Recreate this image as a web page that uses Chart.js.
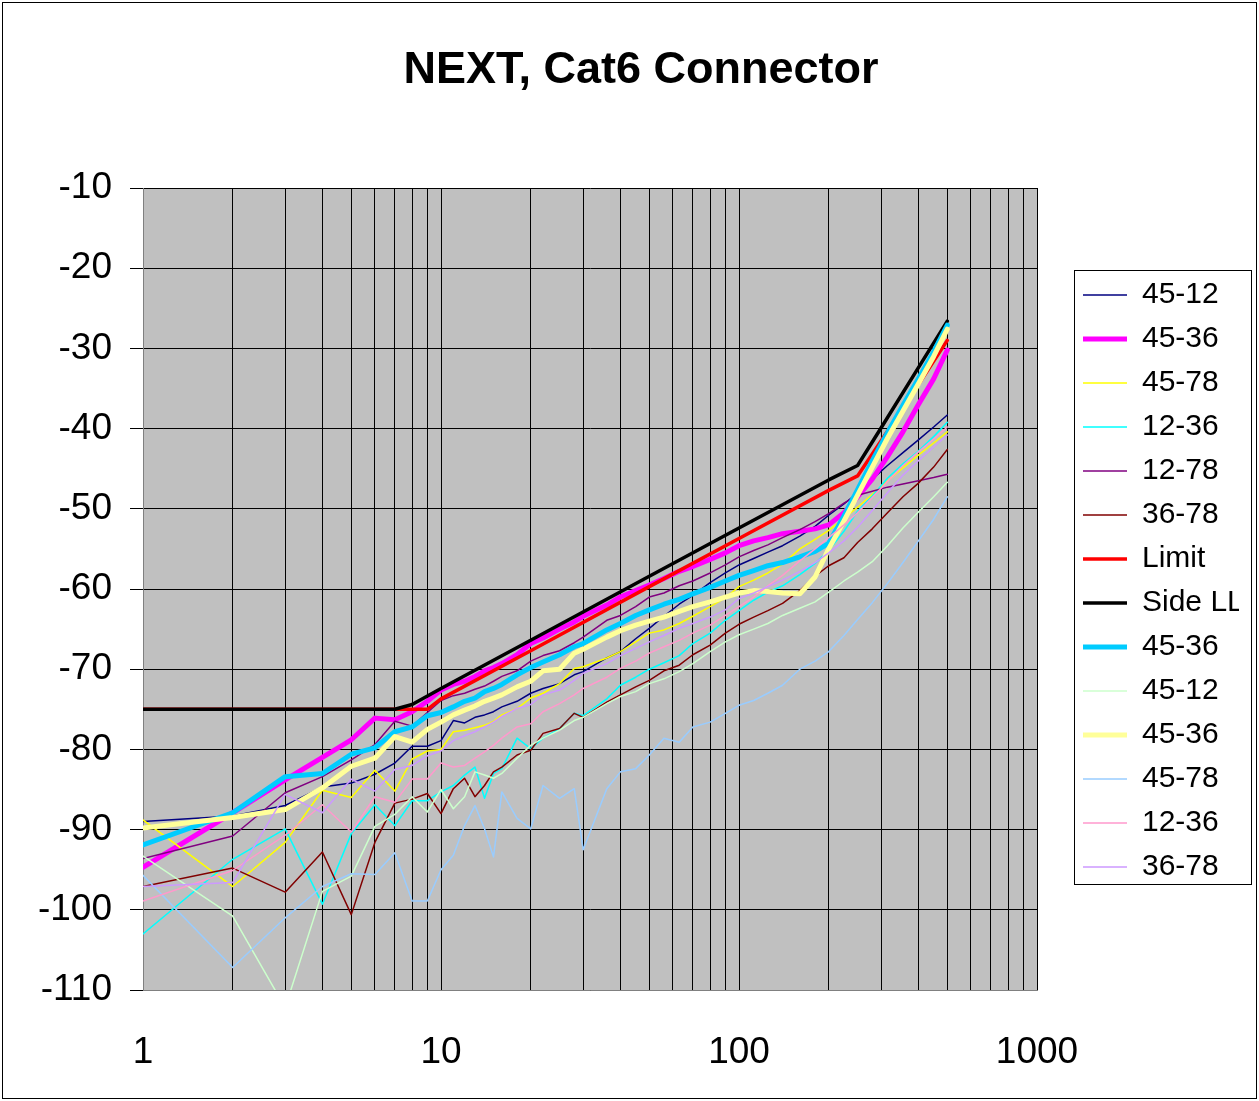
<!DOCTYPE html>
<html>
<head>
<meta charset="utf-8">
<title>NEXT, Cat6 Connector</title>
<script src="https://cdn.jsdelivr.net/npm/chart.js"></script>
<style>
  html, body { margin: 0; padding: 0; background: #ffffff; }
  #wrap { position: relative; width: 1259px; height: 1101px; }
</style>
</head>
<body>
<div id="wrap"><canvas id="chart"></canvas></div>
<script>
// frequency points (MHz) shared by the measured pairs
const FREQ = [1, 2, 3, 4, 5, 6, 7, 8, 9, 10, 11, 12, 13, 14, 15, 16, 18, 20, 22, 25, 28, 30,
    36, 40, 45, 50, 56, 63, 70, 80, 90, 100, 112, 125, 140, 160, 180, 200, 225, 250,
    280, 315, 355, 400, 450, 500];

// NEXT in dB, first measurement set
const PAIR_45_12 = [-89.0, -88.3, -87.0, -84.7, -84.2, -83.1, -81.7, -79.6, -79.6, -78.9,
    -76.4, -76.7, -76.0, -75.7, -75.3, -74.7, -74.0, -73.0, -72.4, -71.8, -70.7, -70.3,
    -68.6, -67.8, -66.2, -64.9, -63.4, -61.9, -60.8, -59.2, -58.0, -57.0,
    -56.2, -55.4, -54.6, -53.4, -52.2, -50.8, -49.4, -48.0,
    -46.3, -44.6, -43.0, -41.4, -39.8, -38.3];
const PAIR_45_36 = [-94.7, -87.9, -83.8, -81.0, -78.8, -76.1, -76.3, -75.3, -74.0, -72.6,
    -71.9, -71.5, -70.9, -70.2, -69.8, -69.3, -68.2, -66.8, -66.1, -65.0, -64.1, -63.4,
    -62.0, -61.0, -60.2, -59.5, -58.7, -57.8, -57.2, -56.3, -55.5, -54.6,
    -54.0, -53.6, -53.1, -52.8, -52.5, -52.0, -50.5, -48.5,
    -46.3, -43.5, -40.4, -37.0, -33.8, -30.2];
const PAIR_45_78 = [-88.8, -97.1, -91.6, -85.1, -86.0, -82.6, -85.2, -81.2, -80.2, -80.0,
    -77.8, -77.6, -77.3, -77.0, -76.5, -75.7, -74.9, -73.6, -73.0, -71.8, -69.9, -69.7,
    -68.6, -67.8, -66.6, -65.5, -65.1, -64.3, -63.4, -62.2, -61.1, -59.7,
    -58.9, -58.0, -56.9, -55.0, -53.8, -52.7, -51.2, -49.8,
    -48.2, -46.5, -44.9, -43.3, -41.8, -40.4];
const PAIR_12_36 = [-103.0, -93.7, -89.9, -99.3, -90.5, -86.9, -89.5, -86.4, -86.4, -85.3,
    -84.5, -83.2, -82.2, -86.1, -83.0, -82.4, -78.6, -79.9, -78.6, -77.4, -75.5, -75.8,
    -73.7, -72.0, -71.0, -70.0, -69.2, -68.3, -66.8, -65.5, -63.9, -62.7,
    -61.4, -60.4, -59.6, -58.2, -56.8, -55.2, -52.8, -50.3,
    -48.4, -46.2, -44.4, -42.8, -41.0, -39.2];
const PAIR_12_78 = [-93.6, -90.8, -85.4, -83.4, -81.3, -79.4, -76.5, -77.1, -75.4, -73.9,
    -73.3, -73.0, -72.5, -72.1, -71.5, -70.9, -70.2, -69.0, -68.3, -67.7, -66.7, -66.0,
    -63.9, -63.3, -62.2, -61.0, -60.5, -59.6, -59.0, -58.0, -57.0, -56.0,
    -55.2, -54.5, -53.6, -52.6, -51.6, -50.6, -49.3, -48.3,
    -47.8, -47.3, -46.9, -46.5, -46.1, -45.7];
const PAIR_36_78 = [-97.1, -94.8, -97.8, -92.8, -100.6, -91.6, -86.7, -86.2, -85.5, -88.0,
    -84.9, -83.6, -85.9, -84.5, -82.8, -82.2, -80.7, -80.1, -78.0, -77.4, -75.5, -76.0,
    -74.1, -73.2, -72.2, -71.4, -70.2, -69.5, -68.2, -67.0, -65.5, -64.4,
    -63.5, -62.7, -61.8, -60.2, -58.4, -57.1, -56.1, -54.2,
    -52.5, -50.5, -48.5, -46.8, -44.8, -42.6];

// limit lines
const LIMIT_FREQ = [1, 9, 10, 20, 50, 100, 200, 250, 300, 400, 500];
const LIMIT = [-75, -75, -73.7, -67.7, -59.7, -53.7, -47.7, -45.9, -41.5, -34.5, -29.0];
const SIDE_FREQ = [1, 7, 8, 10, 20, 50, 100, 200, 250, 300, 400, 500];
const SIDE_LL = [-75, -75, -74.4, -72.4, -66.4, -58.4, -52.4, -46.4, -44.6, -39.9, -32.4, -26.6];

// second measurement set
const PAIR_45_36_B = [-91.9, -87.9, -83.4, -83.0, -80.6, -79.8, -77.8, -77.2, -75.8, -75.4,
    -74.7, -74.0, -73.6, -72.8, -72.4, -71.9, -70.7, -69.8, -69.1, -68.2, -67.2, -66.8,
    -65.1, -64.3, -63.3, -62.6, -61.9, -61.3, -60.6, -59.8, -59.0, -58.3,
    -57.7, -57.1, -56.7, -56.0, -55.3, -54.3, -50.9, -47.6,
    -44.0, -40.5, -37.1, -33.8, -30.4, -27.1];
const PAIR_45_12_B = [-93.3, -100.8, -112.2, -97.7, -95.8, -89.6, -88.1, -85.9, -87.8, -85.0,
    -87.4, -85.9, -82.8, -83.2, -83.6, -83.0, -81.1, -79.5, -78.6, -77.6, -76.4, -76.0,
    -74.3, -73.4, -72.8, -71.8, -71.2, -70.3, -69.3, -67.8, -66.6, -65.7,
    -65.0, -64.3, -63.3, -62.4, -61.6, -60.4, -59.0, -57.9,
    -56.6, -54.6, -52.4, -50.4, -48.5, -46.7];
const PAIR_45_36_C = [-89.8, -88.5, -87.5, -84.8, -82.1, -81.1, -78.4, -79.1, -77.5, -76.6,
    -75.7, -75.1, -74.6, -74.0, -73.6, -73.2, -72.2, -71.5, -70.2, -70.0, -68.0, -67.5,
    -66.0, -65.2, -64.5, -64.0, -63.5, -62.8, -62.2, -61.6, -61.0, -60.5,
    -60.2, -60.3, -60.5, -60.6, -58.5, -55.0, -51.5, -48.3,
    -44.8, -41.2, -37.8, -34.4, -31.0, -27.6];
const PAIR_45_78_B = [-95.7, -107.2, -101.0, -97.1, -95.5, -95.6, -92.9, -98.9, -98.9, -95.0,
    -93.2, -89.5, -87.0, -89.9, -93.4, -85.3, -88.6, -89.9, -84.5, -86.1, -84.9, -92.5,
    -84.9, -82.8, -82.4, -80.7, -78.6, -79.1, -77.2, -76.6, -75.5, -74.5,
    -73.9, -73.0, -72.0, -70.0, -69.0, -67.8, -65.8, -63.8,
    -61.7, -59.3, -56.7, -54.0, -51.3, -48.5];
const PAIR_12_36_B = [-98.9, -95.1, -90.7, -86.9, -90.3, -85.9, -86.6, -83.7, -83.7, -81.7,
    -82.2, -82.0, -81.1, -80.3, -79.5, -78.6, -77.2, -76.8, -75.3, -74.3, -73.2, -72.4,
    -71.0, -69.9, -69.0, -68.0, -67.2, -66.4, -65.5, -64.5, -63.3, -62.2,
    -61.0, -59.6, -58.3, -56.5, -55.0, -53.6, -52.0, -50.5,
    -48.6, -46.6, -44.6, -42.9, -41.3, -39.8];
const PAIR_36_78_B = [-97.1, -96.6, -85.6, -87.9, -83.7, -85.2, -82.5, -82.0, -80.8, -80.2,
    -78.9, -78.3, -77.8, -77.2, -76.6, -75.9, -74.9, -74.4, -73.2, -72.6, -71.4, -70.5,
    -69.3, -68.3, -67.4, -66.6, -65.8, -64.9, -64.3, -63.5, -62.6, -61.2,
    -60.5, -59.7, -58.9, -57.8, -56.7, -55.5, -54.0, -52.3,
    -50.2, -48.0, -45.8, -44.0, -42.3, -40.8];

const SERIES_NAMES = ['45-12', '45-36', '45-78', '12-36', '12-78', '36-78', 'Limit', 'Side LL',
    '45-36', '45-12', '45-36', '45-78', '12-36', '36-78'];
const SERIES_X = [FREQ, FREQ, FREQ, FREQ, FREQ, FREQ, LIMIT_FREQ, SIDE_FREQ,
    FREQ, FREQ, FREQ, FREQ, FREQ, FREQ];
const SERIES_Y = [PAIR_45_12, PAIR_45_36, PAIR_45_78, PAIR_12_36, PAIR_12_78, PAIR_36_78, LIMIT, SIDE_LL,
    PAIR_45_36_B, PAIR_45_12_B, PAIR_45_36_C, PAIR_45_78_B, PAIR_12_36_B, PAIR_36_78_B];

// axis ticks
const X_TICKS = [1, 2, 3, 4, 5, 6, 7, 8, 9, 10, 20, 30, 40, 50, 60, 70, 80, 90,
    100, 200, 300, 400, 500, 600, 700, 800, 900, 1000];
const X_LABELS = [1, 10, 100, 1000];

// styles
const COLORS = ['#000080', '#FF00FF', '#FFFF00', '#00FFFF', '#800080', '#800000', '#FF0000', '#000000',
    '#00CCFF', '#CCFFCC', '#FFFF99', '#99CCFF', '#FF99CC', '#CC99FF'];
const WIDTHS = [1.5, 5, 1.5, 1.5, 1.5, 1.5, 3.5, 3.5, 5, 1.5, 5, 1.5, 1.5, 1.5];

const FONT = '"Liberation Sans", Arial, Helvetica, sans-serif';
Chart.defaults.font.family = FONT;
Chart.defaults.color = '#000000';

function toPoints(xs, ys) {
    return xs.map(function (x, i) { return { x: x, y: ys[i] }; });
}

const datasets = SERIES_NAMES.map(function (name, i) {
    return {
        label: name,
        data: toPoints(SERIES_X[i], SERIES_Y[i]),
        borderColor: COLORS[i],
        backgroundColor: COLORS[i],
        borderWidth: WIDTHS[i],
        pointRadius: 0,
        tension: 0,
        fill: false,
        borderJoinStyle: 'round',
        borderCapStyle: 'round',
        // later series are painted on top, like the original sheet
        order: SERIES_NAMES.length - i
    };
});

// grey plot area behind the grid
const plotBackground = {
    id: 'plotBackground',
    beforeDraw(chart) {
        const a = chart.chartArea;
        const ctx = chart.ctx;
        ctx.save();
        ctx.fillStyle = '#C0C0C0';
        ctx.fillRect(a.left, a.top, a.right - a.left, a.bottom - a.top);
        ctx.restore();
    }
};

// move legend next to the plot and nudge the title
const placeBoxes = {
    id: 'placeBoxes',
    afterLayout(chart) {
        const lg = chart.legend;
        const dx = chart.chartArea.right + 32 - lg.left;
        lg.left += dx;
        lg.right += dx;
        lg.top = 266;
        lg.bottom = chart.height;
        const t = chart.titleBlock;
        if (t) t.left = 2 * 641 - t.right;
    }
};

// legend box and outer frame
const frames = {
    id: 'frames',
    afterDraw(chart) {
        const ctx = chart.ctx;
        const lg = chart.legend;
        ctx.save();
        ctx.strokeStyle = '#000000';
        ctx.lineWidth = 1;
        ctx.strokeRect(lg.left + 5.5, lg.top + 4.5, 177, 614);
        ctx.strokeRect(2.5, 2.5, chart.width - 5, chart.height - 5);
        ctx.restore();
    }
};

const ctx = document.getElementById('chart').getContext('2d');
new Chart(ctx, {
    type: 'line',
    data: { datasets: datasets },
    plugins: [plotBackground, placeBoxes, frames],
    options: {
        responsive: true,
        maintainAspectRatio: false,
        animation: false,
        events: [],
        layout: { padding: { left: 0, right: 52, top: 0, bottom: 0 } },
        scales: {
            x: {
                type: 'logarithmic',
                min: 1,
                max: 1000,
                afterBuildTicks: function (scale) {
                    scale.ticks = X_TICKS.map(function (v) { return { value: v }; });
                },
                afterFit: function (scale) { scale.height = 111; },
                ticks: {
                    autoSkip: false,
                    maxRotation: 0,
                    minRotation: 0,
                    padding: 41,
                    color: '#000000',
                    font: { size: 37 },
                    callback: function (value) {
                        return X_LABELS.indexOf(value) >= 0 ? String(value) : '';
                    }
                },
                grid: { color: '#000000', lineWidth: 1, drawTicks: false },
                border: { color: '#808080', width: 1 }
            },
            y: {
                type: 'linear',
                min: -110,
                max: -10,
                afterFit: function (scale) { scale.width = 143; },
                ticks: {
                    stepSize: 10,
                    padding: 18,
                    color: '#000000',
                    font: { size: 37 }
                },
                grid: { color: '#000000', lineWidth: 1, drawTicks: true, tickLength: 13 },
                border: { color: '#808080', width: 1 }
            }
        },
        plugins: {
            title: {
                display: true,
                text: 'NEXT, Cat6 Connector',
                color: '#000000',
                font: { size: 45, weight: 'bold' },
                padding: { top: 44, bottom: 90 }
            },
            legend: {
                position: 'right',
                align: 'start',
                maxWidth: 170,
                labels: {
                    usePointStyle: true,
                    pointStyle: 'line',
                    pointStyleWidth: 44,
                    padding: 14,
                    color: '#000000',
                    font: { size: 30 },
                    sort: function (a, b) { return a.datasetIndex - b.datasetIndex; }
                }
            },
            tooltip: { enabled: false }
        }
    }
});
</script>
</body>
</html>
